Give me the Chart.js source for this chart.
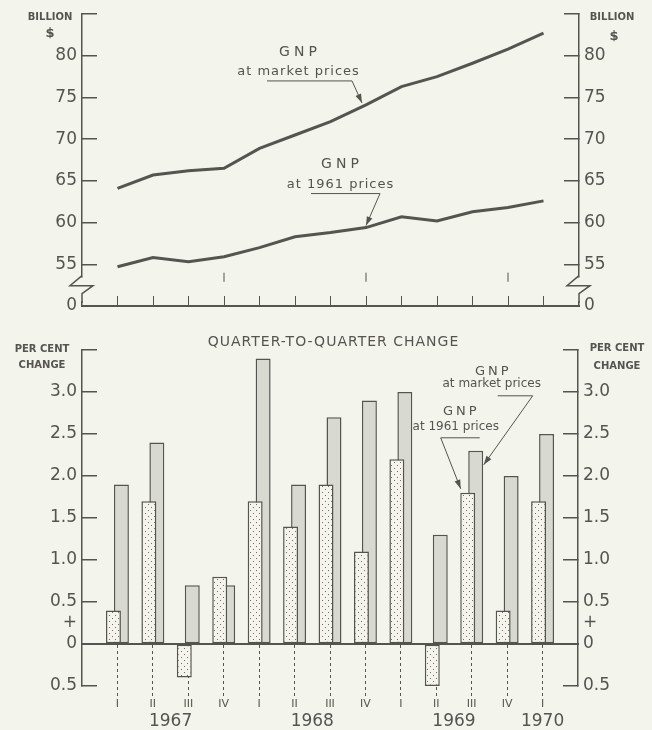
<!DOCTYPE html>
<html lang="en">
<head>
<meta charset="UTF-8">
<title>GNP 1967-1970</title>
<script src="https://cdn.jsdelivr.net/npm/chart.js"></script>
<style>
  html, body { margin: 0; padding: 0; background: #f3f4ec; }
  canvas { display: block; }
</style>
</head>
<body>
<canvas id="levels" width="652" height="320"></canvas>
<canvas id="changes" width="652" height="410"></canvas>
<script>
// quarters 1967 I .. 1970 I
const quarters = ['I', 'II', 'III', 'IV', 'I', 'II', 'III', 'IV', 'I', 'II', 'III', 'IV', 'I'];
const years = ['1967', '1968', '1969', '1970'];
const yearPos = [1.5, 5.5, 9.5, 12];      // where the year labels sit, in quarter units
const yearEnds = [3, 7, 11];               // little marks in the upper panel

// billion $
const gnpMarket = [64.1, 65.7, 66.2, 66.5, 68.9, 70.5, 72.1, 74.1, 76.3, 77.5, 79.1, 80.8, 82.7];
const gnp1961 = [54.7, 55.8, 55.3, 55.9, 57.0, 58.3, 58.8, 59.4, 60.7, 60.2, 61.3, 61.8, 62.6];

// per cent change, quarter to quarter
const chg1961 = [0.4, 1.7, -0.4, 0.8, 1.7, 1.4, 1.9, 1.1, 2.2, -0.5, 1.8, 0.4, 1.7];
const chgMarket = [1.9, 2.4, 0.7, 0.7, 3.4, 1.9, 2.7, 2.9, 3.0, 1.3, 2.3, 2.0, 2.5];

const levelTicks = [50, 55, 60, 65, 70, 75, 80, 85];
const changeTicks = [-0.5, 0, 0.25, 0.5, 1.0, 1.5, 2.0, 2.5, 3.0, 3.5];

const ink = '#55554f';
const paper = '#f3f4ec';
const FONT = '"DejaVu Sans", sans-serif';
Chart.defaults.font.family = FONT;
Chart.defaults.color = ink;

function dotPattern() {
  const c = document.createElement('canvas');
  c.width = 6; c.height = 6;
  const g = c.getContext('2d');
  g.fillStyle = '#f4f4ed';
  g.fillRect(0, 0, 6, 6);
  g.fillStyle = '#6e6e66';
  g.fillRect(1, 1, 1, 1);
  g.fillRect(4, 4, 1, 1);
  return g.createPattern(c, 'repeat');
}

function inRange(ctx) {
  const v = ctx.tick ? ctx.tick.value : -1;
  return v >= 0 && v <= 12;
}

function arrow(ctx, pts) {
  ctx.beginPath();
  ctx.moveTo(pts[0][0], pts[0][1]);
  for (let i = 1; i < pts.length; i++) ctx.lineTo(pts[i][0], pts[i][1]);
  ctx.stroke();
  const [x1, y1] = pts[pts.length - 2];
  const [x2, y2] = pts[pts.length - 1];
  const a = Math.atan2(y2 - y1, x2 - x1);
  const L = 9, W = 3;
  ctx.beginPath();
  ctx.moveTo(x2, y2);
  ctx.lineTo(x2 - L * Math.cos(a) + W * Math.sin(a), y2 - L * Math.sin(a) - W * Math.cos(a));
  ctx.lineTo(x2 - L * Math.cos(a) - W * Math.sin(a), y2 - L * Math.sin(a) + W * Math.cos(a));
  ctx.closePath();
  ctx.fill();
}

function label(ctx, text, x, y, font, spacing) {
  ctx.font = font;
  ctx.letterSpacing = (spacing || 0) + 'px';
  ctx.textAlign = 'center';
  ctx.textBaseline = 'middle';
  ctx.fillText(text, x + (spacing || 0) / 2, y);
  ctx.letterSpacing = '0px';
}

function breakMark(ctx, x, yTop, yBot) {
  ctx.fillStyle = paper;
  ctx.fillRect(x - 2, yTop, 4, yBot - yTop);
  ctx.beginPath();
  ctx.moveTo(x, yTop - 2);
  ctx.lineTo(x - 12, yTop + 8);
  ctx.lineTo(x + 11, yTop + 8);
  ctx.lineTo(x, yTop + 16);
  ctx.lineTo(x, yBot + 2);
  ctx.stroke();
}

const levelDecor = {
  id: 'levelDecor',
  afterDraw(chart) {
    const { ctx, scales: { x, y } } = chart;
    ctx.save();
    ctx.strokeStyle = ink; ctx.fillStyle = ink; ctx.lineWidth = 1.5;
    // axis breaks
    const yb1 = y.getPixelForValue(53.4), yb2 = y.getPixelForValue(50.6);
    breakMark(ctx, chart.chartArea.left, yb1, yb2);
    breakMark(ctx, chart.chartArea.right, yb1, yb2);
    // year-end marks
    ctx.lineWidth = 1;
    yearEnds.forEach(i => {
      const px = x.getPixelForValue(i);
      ctx.beginPath();
      ctx.moveTo(px, y.getPixelForValue(54));
      ctx.lineTo(px, y.getPixelForValue(52.9));
      ctx.stroke();
    });
    // unit labels
    ctx.fillStyle = ink;
    label(ctx, 'BILLION', 50, 17, 'bold 10px ' + FONT);
    label(ctx, '$', 50, 34, 'bold 13px ' + FONT);
    label(ctx, 'BILLION', 612, 17, 'bold 10px ' + FONT);
    label(ctx, '$', 614, 37, 'bold 13px ' + FONT);
    // annotations
    ctx.lineWidth = 1;
    let tx = x.getPixelForValue(7) - 4, ty = y.getPixelForValue(gnpMarket[7]) - 2;
    label(ctx, 'GNP', tx - 64, ty - 51, '14px ' + FONT, 4);
    label(ctx, 'at market prices', tx - 64, ty - 31, '13px ' + FONT, 1);
    arrow(ctx, [[tx - 95, ty - 22], [tx - 10, ty - 22], [tx, ty]]);
    tx = x.getPixelForValue(7); ty = y.getPixelForValue(gnp1961[7]) - 2;
    label(ctx, 'GNP', tx - 26, ty - 61, '14px ' + FONT, 4);
    label(ctx, 'at 1961 prices', tx - 26, ty - 41, '13px ' + FONT, 1);
    arrow(ctx, [[tx - 55, ty - 32], [tx + 14, ty - 32], [tx, ty]]);
    ctx.restore();
  }
};

const changeDecor = {
  id: 'changeDecor',
  afterDraw(chart) {
    const { ctx, scales: { x, y } } = chart;
    ctx.save();
    ctx.strokeStyle = ink; ctx.fillStyle = ink; ctx.lineWidth = 1;
    label(ctx, 'QUARTER-TO-QUARTER CHANGE', 333, 22, '14px ' + FONT, 1);
    label(ctx, 'PER CENT', 42, 29, 'bold 10px ' + FONT);
    label(ctx, 'CHANGE', 42, 45, 'bold 10px ' + FONT);
    label(ctx, 'PER CENT', 617, 28, 'bold 10px ' + FONT);
    label(ctx, 'CHANGE', 617, 46, 'bold 10px ' + FONT);
    // market prices pointer -> grey bar of 1969 III
    let tx = x.getPixelForValue(10) + 12, ty = y.getPixelForValue(chgMarket[10]) + 14;
    label(ctx, 'GNP', tx + 8, ty - 93, '13px ' + FONT, 3);
    label(ctx, 'at market prices', tx + 8, ty - 81, '12px ' + FONT);
    arrow(ctx, [[tx + 14, ty - 69], [tx + 49, ty - 69], [tx, ty]]);
    // 1961 prices pointer -> dotted bar of 1969 III
    tx = x.getPixelForValue(10) - 11; ty = y.getPixelForValue(chg1961[10]) - 4;
    label(ctx, 'GNP', tx - 1, ty - 77, '13px ' + FONT, 3);
    label(ctx, 'at 1961 prices', tx - 5, ty - 62, '12px ' + FONT);
    arrow(ctx, [[tx + 19, ty - 51], [tx - 20, ty - 51], [tx, ty]]);
    ctx.restore();
  }
};

const pts = arr => arr.map((v, i) => ({ x: i, y: v }));

function sideAxis(position, ticks, fmt, width, skip) {
  return {
    type: 'linear',
    position: position,
    min: ticks[0],
    max: ticks[ticks.length - 1],
    afterBuildTicks: s => { s.ticks = ticks.map(v => ({ value: v })); },
    afterFit: s => { s.width = width; s.paddingTop = 0; s.paddingBottom = 0; },
    ticks: { autoSkip: false, padding: 20, font: { size: 17 }, color: ink, callback: fmt },
    grid: {
      drawOnChartArea: false, tickLength: -15, lineWidth: 1.5,
      tickColor: c => (c.tick && skip.includes(c.tick.value)) ? 'transparent' : ink
    },
    border: { color: ink, width: 1.5 }
  };
}

// upper panel: levels
const levelFmt = v => v === 50 ? '0' : (v === 85 ? '' : String(v));
new Chart(document.getElementById('levels'), {
  type: 'line',
  data: {
    datasets: [
      { label: 'GNP at market prices', data: pts(gnpMarket), borderColor: ink, borderWidth: 3, pointRadius: 0 },
      { label: 'GNP at 1961 prices', data: pts(gnp1961), borderColor: ink, borderWidth: 3, pointRadius: 0 }
    ]
  },
  options: {
    responsive: false,
    animation: false,
    layout: { padding: { top: 14, left: 0, right: 0, bottom: 0 } },
    plugins: { legend: { display: false }, tooltip: { enabled: false } },
    scales: {
      x: {
        type: 'linear', min: -1, max: 13,
        afterFit: s => { s.height = 14; s.paddingLeft = 0; s.paddingRight = 0; },
        ticks: { display: false, stepSize: 1 },
        grid: { drawOnChartArea: false, tickLength: -10, lineWidth: 1, tickColor: c => inRange(c) ? ink : 'transparent' },
        border: { color: ink, width: 2 }
      },
      y: sideAxis('left', levelTicks, levelFmt, 82, [50]),
      yR: sideAxis('right', levelTicks, levelFmt, 73, [50])
    }
  },
  plugins: [levelDecor]
});

// lower panel: quarter-to-quarter change
const changeFmt = v => {
  if (v === 3.5) return '';
  if (v === 0.25) return '+';
  if (v === 0) return '0';
  return Math.abs(v).toFixed(1);
};
const barStyle = { borderColor: ink, borderWidth: 1.5, borderSkipped: false, categoryPercentage: 0.45, barPercentage: 1.875 };
new Chart(document.getElementById('changes'), {
  type: 'bar',
  data: {
    datasets: [
      Object.assign({ label: 'GNP at 1961 prices', data: pts(chg1961), backgroundColor: dotPattern() }, barStyle),
      Object.assign({ label: 'GNP at market prices', data: pts(chgMarket), backgroundColor: '#d8d9d0' }, barStyle)
    ]
  },
  options: {
    responsive: false,
    animation: false,
    layout: { padding: { top: 30, left: 0, right: 0, bottom: 44 } },
    plugins: { legend: { display: false }, tooltip: { enabled: false } },
    scales: {
      x: {
        type: 'linear', min: -1, max: 13, offset: false,
        position: { y: 0 },
        ticks: {
          stepSize: 1, autoSkip: false, maxRotation: 0, padding: 3, font: { size: 11 }, color: ink,
          callback: v => quarters[v] || ''
        },
        grid: {
          offset: false, drawOnChartArea: false, tickLength: 51, tickWidth: 1,
          tickBorderDash: [3, 3], tickColor: c => inRange(c) ? ink : 'transparent'
        },
        border: { color: ink, width: 2 }
      },
      x2: {
        type: 'linear', axis: 'x', min: -1, max: 13, offset: false,
        position: { y: 0 },
        afterBuildTicks: s => { s.ticks = yearPos.map(v => ({ value: v })); },
        ticks: { autoSkip: false, maxRotation: 0, padding: 59, font: { size: 17 }, color: ink, callback: (v, i) => years[i] },
        grid: { display: false },
        border: { display: false }
      },
      y: sideAxis('left', changeTicks, changeFmt, 82, [0.25]),
      yR: sideAxis('right', changeTicks, changeFmt, 74, [0.25])
    }
  },
  plugins: [changeDecor]
});
</script>
</body>
</html>
